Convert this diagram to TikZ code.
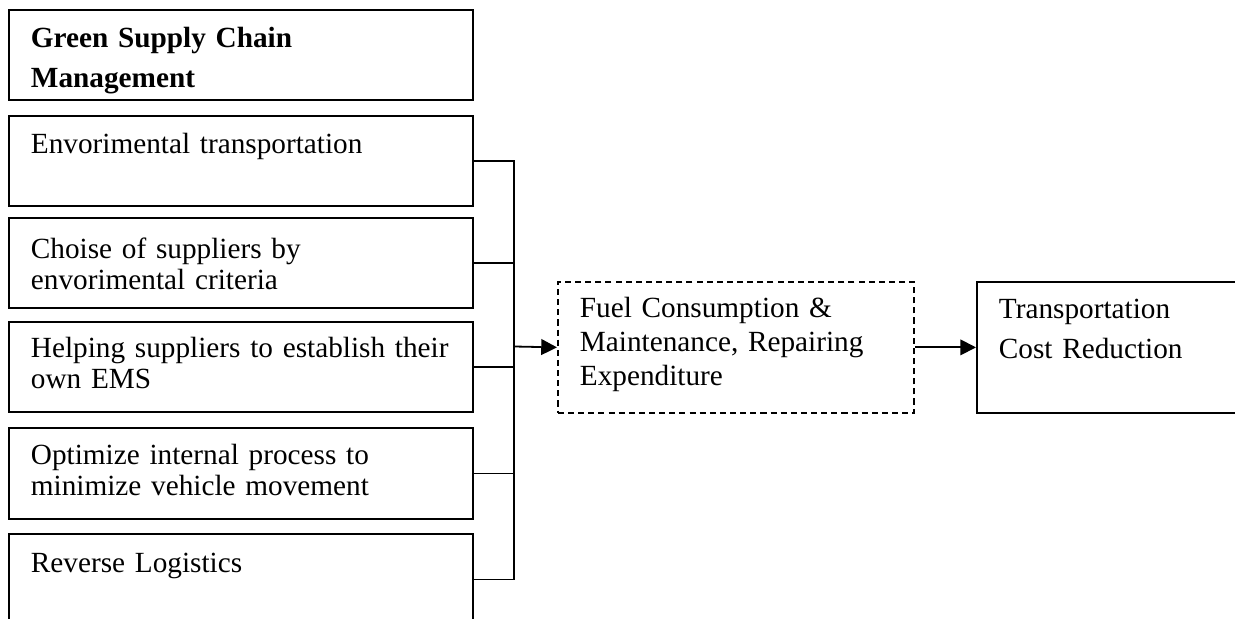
\documentclass[tikz,border=0pt]{standalone}
\usepackage{fontspec}
\setmainfont{Liberation Serif}
\usetikzlibrary{arrows.meta}
\tikzset{
    box/.style={draw,line width=0.8pt,anchor=north west,align=left,
        inner xsep=9.8pt,inner ysep=0pt,text width=186.6pt,
        text height=16.9pt,text depth=23.1pt,
        font=\fontsize{13}{13.8}\selectfont},
    headbox/.style={box,font=\bfseries\fontsize{13}{17.8}\selectfont},
    lowbox/.style={box,text height=16.4pt,text depth=24.1pt},
    fuelbox/.style={box,dash pattern=on 2.7pt off 1.8pt,text width=138.7pt,
        text height=16pt,text depth=42.2pt,font=\fontsize{13}{15.1}\selectfont},
    costbox/.style={box,text width=101pt,text height=16.4pt,text depth=41.8pt,
        font=\fontsize{13}{17.8}\selectfont},
    link/.style={line width=0.8pt},
    arr/.style={link,-{Triangle[length=7pt,width=7pt]}},
}
\begin{document}
\begin{tikzpicture}[x=0.4444pt,y=-0.4444pt]
\useasboundingbox (0,0) rectangle (1235,619);
\node[headbox] (gscm) at (8,9)   {Green Supply Chain\\Management};
\node[box] (env)      at (8,115) {Envorimental transportation};
\node[box,text height=18.2pt,text depth=21.8pt] (choise) at (8,217)
    {Choise of suppliers by\\envorimental criteria};
\node[box,text height=16pt,text depth=24pt] (ems) at (8,321)
    {Helping suppliers to establish their\\own EMS};
\node[lowbox] (opt)   at (8,427) {Optimize internal process to\\minimize vehicle movement};
\node[lowbox,text height=17.3pt,text depth=23.2pt] (rev) at (8,533) {Reverse Logistics};
\node[fuelbox] (fuel) at (557,281) {Fuel Consumption \&\\Maintenance, Repairing\\Expenditure};
\node[costbox] (cost) at (976,281) {Transportation\\Cost Reduction};
\coordinate (bus) at (514,346.5);
\draw[link] (env.east) -| (bus);
\draw[link] (choise.east) -| (bus);
\draw[link] (ems.east) -| (bus);
\draw[link] (opt.east) -| (bus);
\draw[link] (rev.east) -| (bus);
\draw[arr] (bus) -- (fuel.west);
\draw[arr] (fuel.east) -- (cost.west);
\end{tikzpicture}
\end{document}
